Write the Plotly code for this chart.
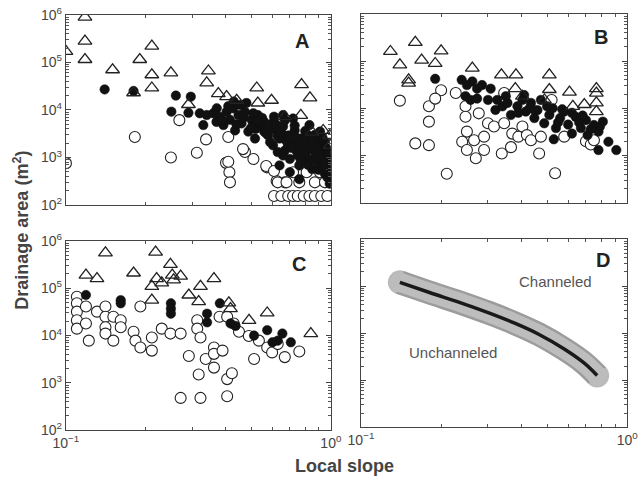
import plotly.graph_objects as go

# ---------------- Panel A ----------------
a_tri_s = [0.1, 0.118, 0.118, 0.118, 0.150, 0.190, 0.211, 0.211, 0.211, 0.18, 0.249, 0.345, 0.34, 0.376, 0.404,
           0.441, 0.29, 0.525, 0.53, 0.597, 0.775, 0.834, 0.77, 0.67, 0.935, 0.99, 0.995, 0.85]
a_tri_a = [1.7e5, 9e5, 2.8e5, 1.15e5, 7e4, 1.15e5, 2.2e5, 5.5e4, 2.9e4, 2.3e4, 6e4, 6.6e4, 3.7e4, 2.2e4, 1.9e4,
           1.6e4, 1.3e4, 2.9e4, 1.4e4, 1.6e4, 3.4e4, 1.8e4, 7.7e3, 7.2e3, 3.7e3, 2.9e3, 1.8e3, 3.4e3]
a_fill_s = [0.14, 0.18, 0.26, 0.296, 0.25, 0.29, 0.32, 0.34, 0.33, 0.37, 0.36,
            0.371, 0.38, 0.393, 0.404, 0.416, 0.428, 0.435, 0.448, 0.46, 0.474, 0.488, 0.502, 0.517, 0.53,
            0.546, 0.56, 0.58, 0.6, 0.605, 0.62, 0.64, 0.66, 0.67, 0.69, 0.70, 0.72, 0.73, 0.74, 0.76,
            0.77, 0.79, 0.81, 0.83, 0.85, 0.87, 0.89, 0.91, 0.93, 0.95, 0.97, 0.99, 0.99, 0.66, 0.64, 0.70,
            0.76, 0.43, 0.48, 0.66, 0.72, 0.83, 0.91, 0.456, 0.51, 0.56, 0.59, 0.76, 0.82, 0.88, 0.95, 0.69, 0.63,
            0.52, 0.55, 0.57, 0.62, 0.63, 0.65, 0.68, 0.71, 0.74, 0.75, 0.78, 0.80, 0.82, 0.84, 0.86, 0.88,
            0.90, 0.92, 0.94, 0.96, 0.98, 0.97, 0.99, 0.93, 0.87, 0.80, 0.73, 0.67, 0.61, 0.44, 0.41, 0.39,
            0.47, 0.50, 0.53, 0.58, 0.70, 0.77, 0.85, 0.89]
a_fill_a = [2.7e4, 2.5e4, 2e4, 1.9e4, 9.2e3, 8.7e3, 8.5e3, 7.8e3, 4.8e3, 5.6e3, 8.5e3,
            1.08e4, 7.2e3, 4.8e3, 9.1e3, 6.2e3, 1.08e4, 3.7e3, 7.8e3, 5.2e3, 9.1e3, 3.5e3, 6.2e3, 2.5e3, 7.8e3,
            4.5e3, 5.6e3, 2.9e3, 5.2e3, 1.8e3, 3.7e3, 2.5e3, 4.5e3, 1.4e3, 2.9e3, 9.3e2, 2.1e3, 3.7e3, 1.4e3, 6.8e2,
            2.5e3, 1.65e3, 1.0e3, 2.1e3, 5.7e2, 1.3e3, 1.8e3, 7.9e2, 1.4e3, 4.5e2, 9.3e2, 2.8e2, 6.8e2, 1.1e3, 6.8e2, 4.9e2,
            3.5e2, 1.5e4, 1.4e4, 7.8e3, 6.6e3, 4.8e3, 3.5e3, 1.27e4, 8.5e3, 3.5e3, 2.1e3, 1.6e3, 2.9e3, 2.5e3, 2.1e3, 1.8e3, 1.3e3,
            4e3, 6.8e3, 3.2e3, 5e3, 2.8e3, 3.3e3, 2.2e3, 1.6e3, 2.6e3, 1.1e3, 1.9e3, 1.3e3, 7e2, 1.5e3, 9e2, 1.2e3,
            5.5e2, 1.1e3, 7e2, 1.6e3, 1.2e3, 3.8e2, 4.5e2, 2.6e3, 3e3, 3.6e3, 4.7e3, 6e3, 7.2e3, 5e3, 1.2e4, 6e3,
            7e3, 4.2e3, 5.8e3, 4e3, 2.7e3, 8.5e2, 2.3e3, 6e2]
a_open_s = [0.1, 0.182, 0.249, 0.312, 0.268, 0.338, 0.402, 0.414, 0.416, 0.41, 0.474, 0.51, 0.573, 0.624, 0.67,
            0.466, 0.41, 0.57, 0.61,
            0.61, 0.65, 0.69, 0.72, 0.75, 0.79, 0.83, 0.87, 0.92, 0.97,
            0.63, 0.68, 0.76, 0.87, 0.95,
            0.72, 0.81, 0.91, 0.99]
a_open_a = [7.6e2, 2.7e3, 1.0e3, 1.26e3, 6.1e3, 2.4e3, 7.7e2, 4.9e2, 3e2, 2.7e3, 1.3e3, 9.3e2, 6.2e2, 3.2e2, 3e2,
            1.5e3, 8.1e2, 6.6e2, 5.2e2,
            155, 155, 155, 155, 155, 155, 155, 155, 155, 155,
            300, 300, 300, 300, 300,
            490, 490, 490, 490]

# ---------------- Panel B ----------------
b_tri_s = [0.129, 0.14, 0.16, 0.169, 0.19, 0.20, 0.151, 0.151, 0.262, 0.337, 0.382, 0.38, 0.51, 0.51, 0.607,
           0.766, 0.766, 0.766, 0.69, 0.625, 0.766, 0.404, 0.489]
b_tri_a = [1.6e5, 8.3e4, 2.5e5, 1.05e5, 8.9e4, 1.65e5, 4e4, 3.4e4, 7.1e4, 5.1e4, 5.1e4, 2.6e4, 5.1e4, 2.5e4, 2.2e4,
           2.6e4, 2.1e4, 1.3e4, 1.2e4, 1.1e4, 8.5e3, 1.8e4, 1.5e4]
b_fill_s = [0.19, 0.239, 0.25, 0.262, 0.273, 0.285, 0.307, 0.247, 0.258, 0.273, 0.3, 0.325, 0.32, 0.34, 0.355,
            0.366, 0.387, 0.404, 0.416, 0.435, 0.448, 0.46, 0.474, 0.488, 0.51, 0.525, 0.54, 0.56, 0.58, 0.6,
            0.62, 0.64, 0.67, 0.70, 0.71, 0.75, 0.78, 0.81, 0.79, 0.85, 0.78, 0.91, 0.53,
            0.35, 0.39, 0.43, 0.5, 0.55, 0.62, 0.66, 0.73, 0.68, 0.45, 0.41, 0.57]
b_fill_a = [4.2e4, 4.0e4, 3.1e4, 3.7e4, 2.6e4, 3.1e4, 2.6e4, 1.8e4, 1.5e4, 1.6e4, 1.5e4, 1.5e4, 9.2e3, 1.1e4, 1.3e4,
            7.2e3, 1.1e4, 1.5e4, 8.5e3, 1.3e4, 6.2e3, 9.1e3, 1.5e4, 4.8e3, 7.2e3, 1e4, 3.8e3, 6.2e3, 8.5e3, 4.5e3,
            2.9e3, 6.6e3, 3.8e3, 5.6e3, 2.7e3, 4.4e3, 3.2e3, 5.2e3, 4.1e3, 1.95e3, 1.3e3, 1.3e3, 2.2e3,
            1.8e4, 8e3, 1e4, 1.1e4, 5e3, 8e3, 5e3, 3.6e3, 7e3, 9e3, 1.9e4, 9.5e3]
b_open_s = [0.14, 0.16, 0.18, 0.18, 0.18, 0.20, 0.19, 0.21, 0.227, 0.247, 0.247, 0.25, 0.24, 0.25, 0.266, 0.27,
            0.29, 0.29, 0.277, 0.3, 0.316, 0.338, 0.366, 0.37, 0.345, 0.39, 0.404, 0.42, 0.435, 0.467, 0.474,
            0.536, 0.58, 0.70, 0.73, 0.75, 0.52, 0.345]
b_open_a = [1.45e4, 1.8e3, 1.65e3, 1.1e4, 5.2e3, 2.4e4, 1.6e4, 4.1e2, 2.1e4, 1.1e4, 6.6e3, 3.2e3, 1.95e3, 1.3e3, 2.1e3, 8.7e2,
            2.5e3, 1.3e3, 7.8e3, 4.8e3, 4.1e3, 1.1e3, 1.5e3, 2.9e3, 4.8e3, 2.5e3, 4.1e3, 2.7e3, 2.1e3, 1.1e3, 2.5e3,
            4.2e2, 2.5e3, 2e3, 1.7e3, 2.1e3, 1.5e4, 2.1e4]

# ---------------- Panel C ----------------
c_tri_s = [0.141, 0.218, 0.119, 0.131, 0.180, 0.211, 0.22, 0.23, 0.248, 0.252, 0.255, 0.271, 0.211, 0.291,
           0.322, 0.362, 0.317, 0.412, 0.418, 0.491, 0.575, 0.84]
c_tri_a = [5.6e5, 5.8e5, 1.9e5, 1.6e5, 2.1e5, 1.1e5, 1.6e5, 1.3e5, 3.2e5, 1.9e5, 1.5e5, 1.8e5, 5.6e4, 7.2e4,
           1.1e5, 1.6e5, 5.2e4, 4.9e4, 3.7e4, 2.1e4, 3e4, 1.1e4]
c_fill_s = [0.119, 0.161, 0.161, 0.249, 0.249, 0.249, 0.341, 0.341, 0.381, 0.418, 0.437, 0.513, 0.575, 0.602,
            0.63, 0.656, 0.706]
c_fill_a = [7.2e4, 4.8e4, 5.6e4, 4.8e4, 3.7e4, 2.9e4, 2.9e4, 1.9e4, 4.8e4, 1.8e4, 1.6e4, 1e4, 1.3e4, 7.2e3,
            7.8e3, 1.1e4, 7.2e3]
c_open_s = [0.11, 0.11, 0.11, 0.11, 0.11, 0.119, 0.119, 0.122, 0.131, 0.141, 0.141, 0.141, 0.141, 0.151, 0.151,
            0.161, 0.161, 0.18, 0.183, 0.191, 0.191, 0.211, 0.211, 0.23, 0.248, 0.271, 0.291, 0.271, 0.322, 0.406,
            0.313, 0.313, 0.322, 0.317, 0.337, 0.362, 0.362, 0.362, 0.39, 0.406, 0.423, 0.38, 0.406, 0.43, 0.45,
            0.49, 0.513, 0.535, 0.575, 0.6, 0.67, 0.76, 0.63]
c_open_a = [6.6e4, 4.8e4, 3.2e4, 2.1e4, 1.4e4, 4.1e4, 1.8e4, 7.8e3, 3.2e4, 4.1e4, 2.5e4, 1.5e4, 1.1e4, 7.8e3, 2.5e4,
            2.1e4, 1.5e4, 1.2e4, 7.8e3, 5.6e3, 4.1e4, 9.1e3, 4.8e3, 1.4e4, 1.1e4, 1.1e4, 3.7e3, 4.8e2, 4.8e2, 5.2e2,
            2.1e4, 1.4e4, 9.1e3, 1.5e3, 3.2e3, 5.6e3, 4.1e3, 2.1e3, 4.8e3, 1.2e3, 1.6e3, 2.5e4, 2.5e4, 1.8e4, 1.2e4,
            9.8e3, 3.2e3, 7.8e3, 5.6e3, 4.4e3, 3.5e3, 4.6e3, 6.6e3]

# ---------------- Panel D ----------------
d_curve_s = [0.140, 0.181, 0.243, 0.302, 0.376, 0.465, 0.58, 0.69, 0.771]
d_curve_a = [1.2e5, 7.3e4, 4.2e4, 2.7e4, 1.65e4, 9.5e3, 4.6e3, 2.3e3, 1.26e3]
d_labels = ["Channeled", "Unchanneled"]
d_label_s = [0.537, 0.222]
d_label_a = [1.15e5, 3.5e3]

panel_letters = ["A", "B", "C", "D"]
x_tick_vals = [0.1, 1]
x_tick_text = ["10<sup>\u22121</sup>", "10<sup>0</sup>"]
y_tick_vals = [1e2, 1e3, 1e4, 1e5, 1e6]
y_tick_text = ["10<sup>2</sup>", "10<sup>3</sup>", "10<sup>4</sup>", "10<sup>5</sup>", "10<sup>6</sup>"]
x_minor_vals = [m / 10 for m in range(2, 10)]
y_minor_vals = [m * 10 ** k for k in range(2, 6) for m in range(2, 10)]

fig = go.Figure()

def add_scatter(panel, open_s, open_a, fill_s, fill_a, tri_s, tri_a):
    xa = "x" if panel == 1 else f"x{panel}"
    ya = "y" if panel == 1 else f"y{panel}"
    fig.add_trace(go.Scatter(x=open_s, y=open_a, mode="markers", xaxis=xa, yaxis=ya,
                             marker=dict(symbol="circle", size=11, color="white",
                                         line=dict(color="#222", width=1.1)), showlegend=False))
    fig.add_trace(go.Scatter(x=fill_s, y=fill_a, mode="markers", xaxis=xa, yaxis=ya,
                             marker=dict(symbol="circle", size=9.5, color="#111",
                                         line=dict(color="#111", width=0.5)), showlegend=False))
    fig.add_trace(go.Scatter(x=tri_s, y=tri_a, mode="markers", xaxis=xa, yaxis=ya,
                             marker=dict(symbol="triangle-up-open", size=12, color="#222",
                                         line=dict(color="#222", width=1.3)), showlegend=False))

add_scatter(1, a_open_s, a_open_a, a_fill_s, a_fill_a, a_tri_s, a_tri_a)
add_scatter(2, b_open_s, b_open_a, b_fill_s, b_fill_a, b_tri_s, b_tri_a)
add_scatter(3, c_open_s, c_open_a, c_fill_s, c_fill_a, c_tri_s, c_tri_a)

end_sizes_outer = [24] + [0] * (len(d_curve_s) - 2) + [24]
end_sizes_inner = [20] + [0] * (len(d_curve_s) - 2) + [20]
fig.add_trace(go.Scatter(x=d_curve_s, y=d_curve_a, mode="lines+markers", xaxis="x4", yaxis="y4",
                         line=dict(color="#9c9c9c", width=24, shape="spline"),
                         marker=dict(size=end_sizes_outer, color="#9c9c9c", line=dict(width=0)),
                         showlegend=False))
fig.add_trace(go.Scatter(x=d_curve_s, y=d_curve_a, mode="lines+markers", xaxis="x4", yaxis="y4",
                         line=dict(color="#bdbdbd", width=19, shape="spline"),
                         marker=dict(size=end_sizes_inner, color="#bdbdbd", line=dict(width=0)),
                         showlegend=False))
fig.add_trace(go.Scatter(x=d_curve_s, y=d_curve_a, mode="lines", xaxis="x4", yaxis="y4",
                         line=dict(color="#1a1a1a", width=3.5, shape="spline"), showlegend=False))
fig.add_trace(go.Scatter(x=d_label_s, y=d_label_a, mode="text", text=d_labels, xaxis="x4", yaxis="y4",
                         textfont=dict(family="Liberation Sans, Arial", size=15, color="#555"),
                         showlegend=False))

FONT = "Liberation Sans, Arial, sans-serif"
xdoms = [[0.103, 0.517], [0.564, 0.980], [0.103, 0.517], [0.564, 0.980]]
ydoms = [[0.572, 0.969], [0.577, 0.971], [0.102, 0.497], [0.108, 0.501]]

layout = dict(width=640, height=479, margin=dict(l=0, r=0, t=0, b=0),
              paper_bgcolor="white", plot_bgcolor="white", showlegend=False)
for i in range(4):
    n = i + 1
    xk = "xaxis" if n == 1 else f"xaxis{n}"
    yk = "yaxis" if n == 1 else f"yaxis{n}"
    yname = "y" if n == 1 else f"y{n}"
    xname = "x" if n == 1 else f"x{n}"
    layout[xk] = dict(type="log", range=[-1, 0], domain=xdoms[i], anchor=yname,
                      tickmode="array", tickvals=x_tick_vals, ticktext=x_tick_text,
                      ticks="inside", ticklen=5, tickcolor="#444",
                      showticklabels=(n >= 3),
                      tickfont=dict(family=FONT, size=14, color="#444"),
                      minor=dict(tickmode="array", tickvals=x_minor_vals, ticks="inside", ticklen=3,
                                 tickcolor="#555", showgrid=False),
                      showline=True, linecolor="#444", linewidth=1.2, mirror="allticks",
                      showgrid=False, zeroline=False, automargin=False)
    layout[yk] = dict(type="log", range=[2, 6], domain=ydoms[i], anchor=xname,
                      tickmode="array", tickvals=y_tick_vals, ticktext=y_tick_text,
                      ticks="inside", ticklen=5, tickcolor="#444",
                      showticklabels=(n in (1, 3)),
                      tickfont=dict(family=FONT, size=14, color="#444"),
                      minor=dict(tickmode="array", tickvals=y_minor_vals, ticks="inside", ticklen=3,
                                 tickcolor="#555", showgrid=False),
                      showline=True, linecolor="#444", linewidth=1.2, mirror="allticks",
                      showgrid=False, zeroline=False, automargin=False)
fig.update_layout(**layout)

letter_pos = [(0.89, 0.86), (0.90, 0.88), (0.88, 0.88), (0.91, 0.89)]
for i, letter in enumerate(panel_letters):
    n = i + 1
    xname = "x" if n == 1 else f"x{n}"
    yname = "y" if n == 1 else f"y{n}"
    fig.add_annotation(text=f"<b>{letter}</b>", xref=f"{xname} domain", yref=f"{yname} domain",
                       x=letter_pos[i][0], y=letter_pos[i][1], xanchor="center", yanchor="middle",
                       showarrow=False, font=dict(family=FONT, size=20, color="#222"))

fig.add_annotation(text="<b>Drainage area (m<sup>2</sup>)</b>", xref="paper", yref="paper",
                   x=0.034, y=0.52, xanchor="center", yanchor="middle", textangle=-90, showarrow=False,
                   font=dict(family=FONT, size=18, color="#444"))
fig.add_annotation(text="<b>Local slope</b>", xref="paper", yref="paper",
                   x=0.539, y=0.027, xanchor="center", yanchor="middle", showarrow=False,
                   font=dict(family=FONT, size=18, color="#444"))

fig.write_html("out.html", config={"displayModeBar": False},
               post_script="document.body.style.margin='0px';document.body.style.padding='0px';")
